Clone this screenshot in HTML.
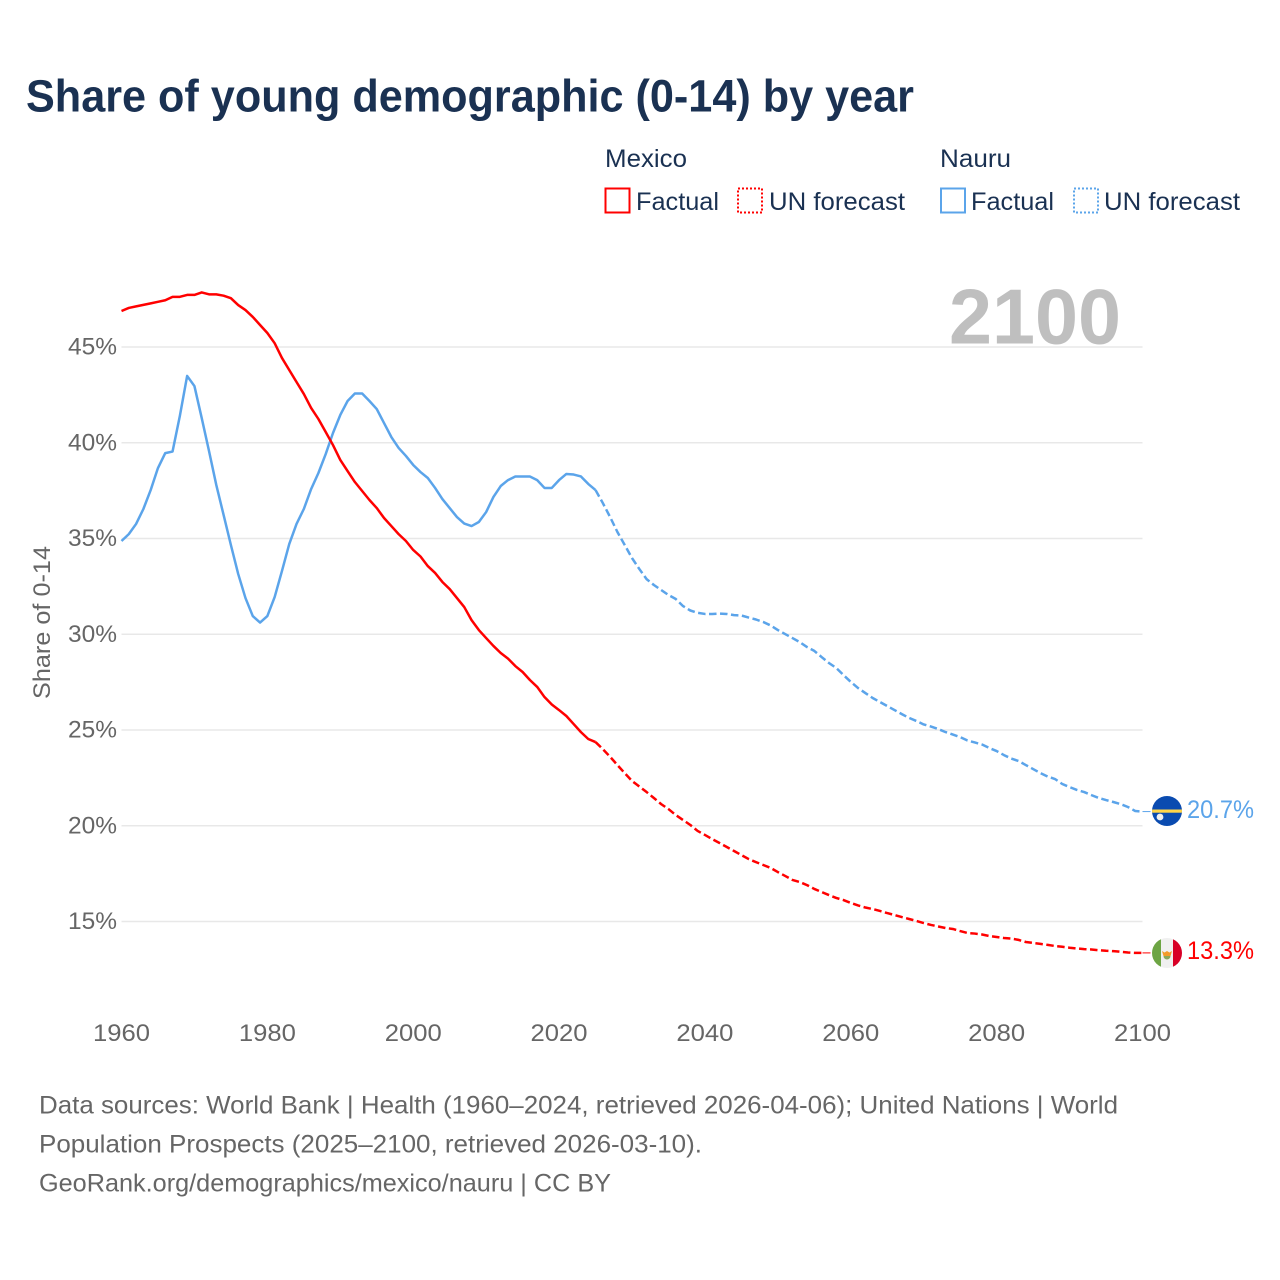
<!DOCTYPE html>
<html lang="en">
<head>
<meta charset="utf-8">
<title>Share of young demographic (0-14) by year</title>
<style>
html,body{margin:0;padding:0;background:#fff;}
svg{display:block;font-family:"Liberation Sans",sans-serif;}
</style>
</head>
<body>
<svg id="chart" width="1280" height="1280" viewBox="0 0 1280 1280" xmlns="http://www.w3.org/2000/svg">
  <text x="26" y="111.5" font-size="45" font-weight="700" fill="#1a3152" textLength="888" lengthAdjust="spacingAndGlyphs">Share of young demographic (0-14) by year</text>

  <g font-size="25" fill="#1a3152">
    <text x="605" y="167" textLength="82" lengthAdjust="spacingAndGlyphs">Mexico</text>
    <text x="940" y="167" textLength="71" lengthAdjust="spacingAndGlyphs">Nauru</text>
    <rect x="605.5" y="188.5" width="24" height="24" fill="none" stroke="#ff0000" stroke-width="2"/>
    <text x="636" y="210" textLength="83" lengthAdjust="spacingAndGlyphs">Factual</text>
    <rect x="738" y="188.5" width="24" height="24" fill="none" stroke="#ff0000" stroke-width="2" stroke-dasharray="2 2"/>
    <text x="769" y="210" textLength="136" lengthAdjust="spacingAndGlyphs">UN forecast</text>
    <rect x="941" y="188.5" width="24" height="24" fill="none" stroke="#5ba4ea" stroke-width="2"/>
    <text x="971" y="210" textLength="83" lengthAdjust="spacingAndGlyphs">Factual</text>
    <rect x="1074" y="188.5" width="24" height="24" fill="none" stroke="#5ba4ea" stroke-width="2" stroke-dasharray="2 2"/>
    <text x="1104" y="210" textLength="136" lengthAdjust="spacingAndGlyphs">UN forecast</text>
  </g>

  <g id="grid"></g>
  <text x="949" y="343.5" font-size="78" font-weight="700" fill="#bfbfbf" textLength="172" lengthAdjust="spacingAndGlyphs">2100</text>
  <g id="yticks" font-size="24" fill="#666666"></g>
  <g id="xticks" font-size="24" fill="#666666"></g>
  <text transform="translate(50 622.5) rotate(-90)" text-anchor="middle" font-size="24" fill="#666666" textLength="153" lengthAdjust="spacingAndGlyphs">Share of 0-14</text>
  <g id="series"></g>

  <g>
    <clipPath id="clip-nauru"><circle cx="1167" cy="811" r="15"/></clipPath>
    <circle cx="1167" cy="811" r="15" fill="#0a4bb0"/>
    <rect x="1152" y="809.5" width="30" height="3.2" fill="#ffd54a" clip-path="url(#clip-nauru)"/>
    <circle cx="1160" cy="817" r="3.4" fill="#f0f0f0"/>
  </g>
  <g>
    <clipPath id="clip-mexico"><circle cx="1167" cy="953" r="15"/></clipPath>
    <g clip-path="url(#clip-mexico)">
      <rect x="1152" y="938" width="30" height="30" fill="#f0f0f0"/>
      <rect x="1152" y="938" width="9" height="30" fill="#6da544"/>
      <rect x="1173" y="938" width="9" height="30" fill="#d80027"/>
    </g>
    <circle cx="1167" cy="956" r="3.5" fill="#8aa85a"/>
    <path d="M1162 951l2.5 1.5 2.5-1.5 2.5 1.5 2.5-1.5-1.5 5h-7z" fill="#f39c2a"/>
  </g>

  <text x="1187" y="818" font-size="25" fill="#5ba4ea" textLength="67" lengthAdjust="spacingAndGlyphs">20.7%</text>
  <text x="1187" y="959" font-size="25" fill="#ff0000" textLength="67" lengthAdjust="spacingAndGlyphs">13.3%</text>

  <g font-size="25" fill="#666666">
    <text x="39" y="1113.5" textLength="1079" lengthAdjust="spacingAndGlyphs">Data sources: World Bank | Health (1960–2024, retrieved 2026-04-06); United Nations | World</text>
    <text x="39" y="1152.5" textLength="663" lengthAdjust="spacingAndGlyphs">Population Prospects (2025–2100, retrieved 2026-03-10).</text>
    <text x="39" y="1191.5" textLength="572" lengthAdjust="spacingAndGlyphs">GeoRank.org/demographics/mexico/nauru | CC BY</text>
  </g>
</svg>
<script>
var firstYear = 1960;
var lastFactualYear = 2025;
var xTickLabels = [1960, 1980, 2000, 2020, 2040, 2060, 2080, 2100];
var yTickLabels = [15, 20, 25, 30, 35, 40, 45];
var mexicoValues = [
  46.88,47.04,47.12,47.20,47.28,47.36,47.44,47.62,47.62,47.72,
  47.72,47.85,47.75,47.75,47.68,47.55,47.19,46.93,46.57,46.15,
  45.73,45.20,44.43,43.80,43.17,42.55,41.82,41.24,40.56,39.88,
  39.10,38.52,37.95,37.48,37.01,36.59,36.07,35.65,35.23,34.87,
  34.40,34.06,33.56,33.20,32.73,32.36,31.89,31.42,30.74,30.22,
  29.80,29.39,29.02,28.73,28.34,28.03,27.61,27.25,26.72,26.33,
  26.04,25.73,25.31,24.89,24.53,24.37,24.00,23.60,23.17,22.75,
  22.34,22.05,21.76,21.45,21.13,20.87,20.56,20.30,20.04,19.73,
  19.52,19.30,19.10,18.89,18.68,18.47,18.26,18.10,17.95,17.80,
  17.58,17.38,17.17,17.06,16.90,16.70,16.54,16.38,16.23,16.12,
  15.97,15.84,15.73,15.65,15.55,15.44,15.34,15.23,15.13,15.03,
  14.92,14.82,14.74,14.66,14.61,14.50,14.40,14.37,14.32,14.24,
  14.19,14.14,14.11,14.04,13.93,13.88,13.83,13.78,13.72,13.68,
  13.63,13.59,13.56,13.54,13.50,13.47,13.45,13.42,13.38,13.36,
  13.36
];
var nauruValues = [
  34.87,35.23,35.76,36.54,37.53,38.68,39.46,39.54,41.40,43.49,
  42.96,41.29,39.57,37.79,36.23,34.66,33.15,31.89,30.95,30.61,
  30.95,31.94,33.30,34.71,35.76,36.54,37.58,38.42,39.41,40.51,
  41.45,42.18,42.57,42.57,42.18,41.76,41.03,40.30,39.73,39.31,
  38.84,38.47,38.16,37.64,37.06,36.59,36.12,35.78,35.65,35.86,
  36.38,37.17,37.74,38.05,38.24,38.24,38.24,38.05,37.64,37.64,
  38.05,38.37,38.34,38.24,37.85,37.53,36.85,36.12,35.34,34.66,
  33.98,33.41,32.88,32.57,32.31,32.05,31.84,31.47,31.24,31.12,
  31.06,31.06,31.08,31.06,31.00,30.98,30.87,30.77,30.64,30.46,
  30.22,30.01,29.80,29.59,29.33,29.13,28.81,28.50,28.24,27.87,
  27.51,27.19,26.93,26.67,26.46,26.25,26.04,25.83,25.63,25.47,
  25.29,25.18,25.05,24.89,24.76,24.63,24.45,24.35,24.24,24.06,
  23.90,23.69,23.51,23.38,23.17,22.96,22.75,22.57,22.44,22.18,
  22.02,21.87,21.76,21.60,21.45,21.34,21.24,21.13,20.98,20.77,
  20.74
];

var NS = 'http://www.w3.org/2000/svg';
function xScale(year) { return 121.5 + (year - 1960) * (1142.5 - 121.5) / 140; }
function yScale(v) { return 347 + (45 - v) * (921.5 - 347) / 30; }
function pointsFor(values, from, to) {
  var pts = [];
  for (var i = 0; i < values.length; i++) {
    var yr = firstYear + i;
    if (yr >= from && yr <= to) { pts.push(xScale(yr).toFixed(2) + ',' + yScale(values[i]).toFixed(2)); }
  }
  return pts.join(' ');
}

var grid = document.getElementById('grid');
var yticks = document.getElementById('yticks');
yTickLabels.forEach(function (t) {
  var line = document.createElementNS(NS, 'line');
  
  
  line.setAttribute('x1', xScale(1960));
  line.setAttribute('x2', xScale(2100));
  line.setAttribute('y1', yScale(t));
  line.setAttribute('y2', yScale(t));
  line.setAttribute('stroke', '#e8e8e8');
  line.setAttribute('stroke-width', '1.4');
  grid.appendChild(line);
  var label = document.createElementNS(NS, 'text');
  
  
  label.setAttribute('x', 68);
  label.setAttribute('y', yScale(t) + 7.5);
  label.setAttribute('textLength', '49');
  label.setAttribute('lengthAdjust', 'spacingAndGlyphs');
  label.textContent = t + '%';
  yticks.appendChild(label);
});

var xticks = document.getElementById('xticks');
xTickLabels.forEach(function (t) {
  var label = document.createElementNS(NS, 'text');
  
  
  label.setAttribute('x', xScale(t) - 28.5);
  label.setAttribute('y', 1041);
  label.setAttribute('textLength', '57');
  label.setAttribute('lengthAdjust', 'spacingAndGlyphs');
  label.textContent = t;
  xticks.appendChild(label);
});

var series = document.getElementById('series');
function drawLine(name, values, from, to, color, dash) {
  var line = document.createElementNS(NS, 'polyline');
  
  
  line.setAttribute('points', pointsFor(values, from, to));
  line.setAttribute('fill', 'none');
  line.setAttribute('stroke', color);
  line.setAttribute('stroke-width', '2.5');
  line.setAttribute('stroke-linejoin', 'round');
  if (dash) { line.setAttribute('stroke-dasharray', dash); }
  series.appendChild(line);
}
function drawLeader(name, values, color) {
  var leader = document.createElementNS(NS, 'line');
  
  
  var y = yScale(values[values.length - 1]);
  leader.setAttribute('x1', xScale(2100));
  leader.setAttribute('x2', xScale(2100) + 8);
  leader.setAttribute('y1', y);
  leader.setAttribute('y2', y);
  leader.setAttribute('stroke', color);
  leader.setAttribute('stroke-width', '1');
  series.appendChild(leader);
}
drawLine('nauru-factual-line', nauruValues, firstYear, lastFactualYear, '#5ba4ea', null);
drawLine('nauru-forecast-line', nauruValues, lastFactualYear, 2100, '#5ba4ea', '7.5 3.5');
drawLine('mexico-factual-line', mexicoValues, firstYear, lastFactualYear, '#ff0000', null);
drawLine('mexico-forecast-line', mexicoValues, lastFactualYear, 2100, '#ff0000', '7.5 3.5');
drawLeader('nauru-leader-line', nauruValues, '#5ba4ea');
drawLeader('mexico-leader-line', mexicoValues, '#ff0000');
</script>
</body>
</html>
